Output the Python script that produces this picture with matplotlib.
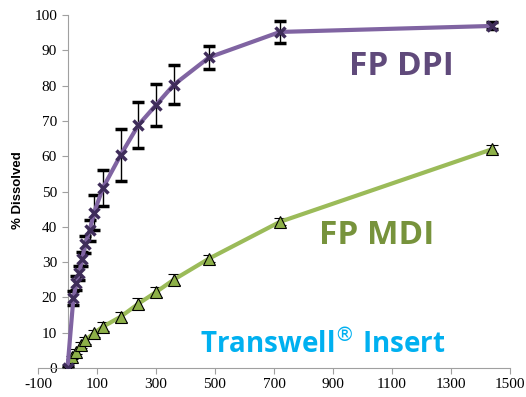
import matplotlib
matplotlib.use("Agg")
import matplotlib.pyplot as plt

plt.rcParams['axes.unicode_minus'] = False

# FP DPI data
dpi_t = [0, 20, 30, 40, 50, 60, 75, 90, 120, 180, 240, 300, 360, 480, 720, 1440]
dpi_y = [0, 19.8, 24, 27, 31, 35, 39, 44, 51, 60.3, 68.8, 74.5, 80.2, 88, 95.2, 96.9]
dpi_err = [0.5, 2, 2, 2, 2, 2.5, 3, 5, 5, 7.3, 6.5, 6, 5.5, 3.2, 3.2, 1]

# FP MDI data
mdi_t = [0, 15, 30, 45, 60, 90, 120, 180, 240, 300, 360, 480, 720, 1440]
mdi_y = [0, 3, 4.6, 6.5, 7.9, 9.9, 11.7, 14.5, 18.2, 21.5, 25, 31, 41.4, 62]
mdi_err = [0.3, 0.5, 0.7, 0.8, 1, 1, 1.2, 1.5, 1.5, 1.5, 1.5, 1, 1, 1.2]

x_ticks = list(range(-100, 1501, 200))
y_ticks = list(range(0, 101, 10))

fig = plt.figure(figsize=(5.26, 3.97), dpi=100)
ax = fig.add_axes([38/526, 29/397, 472/526, 353/397])

ax.errorbar(mdi_t, mdi_y, yerr=mdi_err, color='#9BBB59', lw=3, marker='^',
            markersize=8, markerfacecolor='#8DB048', markeredgecolor='black',
            markeredgewidth=0.8, ecolor='black', elinewidth=1, capsize=4,
            capthick=1, zorder=3)
ax.errorbar(dpi_t, dpi_y, yerr=dpi_err, color='#8064A2', lw=3, marker='x',
            markersize=6.5, markeredgecolor='#3F2D5A', markeredgewidth=2.5,
            ecolor='black', elinewidth=1, capsize=4, capthick=1, zorder=4)

ax.set_xlim(-100, 1500)
ax.set_ylim(0, 100)
ax.set_xticks(x_ticks)
ax.set_yticks(y_ticks)

for s in ['top', 'right']:
    ax.spines[s].set_visible(False)
ax.spines['left'].set_position(('data', 0))
ax.spines['left'].set_color('#A0A0A0')
ax.spines['bottom'].set_color('#A0A0A0')
ax.tick_params(axis='both', direction='out', color='#A0A0A0', length=4,
               labelsize=11)
for lab in ax.get_xticklabels() + ax.get_yticklabels():
    lab.set_family('Liberation Serif')

fig.text(0.034, 0.52, '% Dissolved', rotation=90, ha='center', va='center',
         fontsize=9.5, fontweight='bold', family='Liberation Sans')

ax.text(1131, 85.3, 'FP DPI', color='#604A7B', fontsize=24, fontweight='bold',
        family='Open Sans', ha='center', va='center')
ax.text(1049, 37.5, 'FP MDI', color='#77933C', fontsize=24, fontweight='bold',
        family='Open Sans', ha='center', va='center')
ax.text(866, 6.5, 'Transwell$^{\u00ae}$ Insert', color='#00B0F0', fontsize=20,
        fontweight='bold', family='Open Sans', ha='center', va='center')

fig.savefig('out.png', dpi=100)
